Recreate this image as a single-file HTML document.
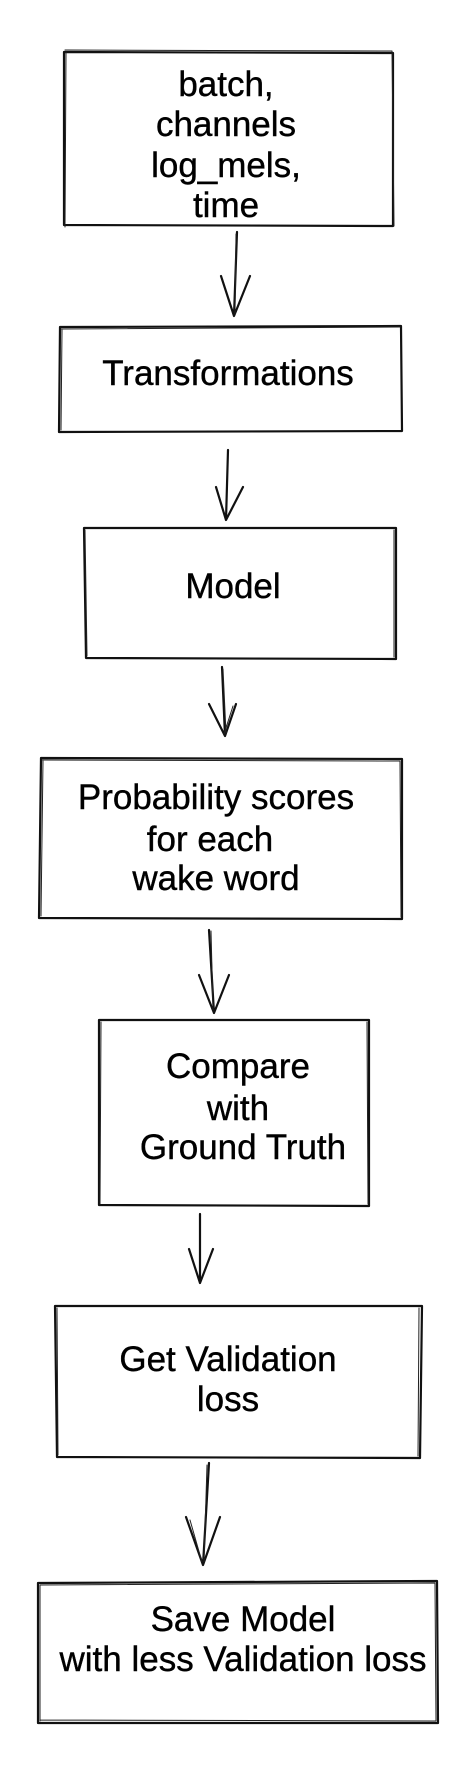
<!DOCTYPE html>
<html><head><meta charset="utf-8"><style>
html,body{margin:0;padding:0;background:#fff;}
svg{display:block;}
text{font-family:"Liberation Sans",Arial,sans-serif;font-size:35px;fill:#000;stroke:#000;stroke-width:0.4;text-anchor:middle;}
.b{fill:none;stroke:#111;stroke-width:2.2;stroke-linecap:round;stroke-linejoin:round;}
.t{fill:none;stroke:#222;stroke-width:1;stroke-linecap:round;}
</style></head><body>
<svg width="472" height="1774" viewBox="0 0 472 1774" xmlns="http://www.w3.org/2000/svg">
<path class="b" d="M64 52 L393 53 L393 226 L64 225 Z"/>
<path class="t" d="M65 50 L392 51 M66 52 L65 227 M392 51 L394 226"/>
<text x="226" y="96">batch,</text>
<text x="226" y="136">channels</text>
<text x="226" y="177">log_mels,</text>
<text x="226" y="217">time</text>
<path class="b" d="M237 232 L234 316 M221 276 L234 316 L250 276"/>
<path class="t" d="M236 234 L235 314"/>
<path class="b" d="M60 327 L401 326 L402 431 L59 432 Z"/>
<path class="t" d="M61 329 L400 327 M62 330 L61 430"/>
<text x="228" y="385">Transformations</text>
<path class="b" d="M228 450 L226 520 M216 487 L226 520 L243 487"/>
<path class="b" d="M84 528 L396 528 L396 659 L86 658 Z"/>
<path class="t" d="M394 530 L394 657 M85 530 L87 656"/>
<text x="233" y="598">Model</text>
<path class="b" d="M222 667 L225 736 M209 704 L225 736 L236 704"/>
<path class="t" d="M223 669 L226 733 M233 706 L224 734"/>
<path class="b" d="M41 758 L402 759 L402 919 L39 918 Z"/>
<path class="t" d="M42 760 L400 761 M43 760 L41 916 M400 761 L401 917"/>
<text x="216" y="809">Probability scores</text>
<text x="210" y="851">for each</text>
<text x="216" y="890">wake word</text>
<path class="b" d="M209 930 L214 1013 M199 975 L214 1013 L229 975"/>
<path class="t" d="M211 931 L213 1010"/>
<path class="b" d="M99 1020 L369 1020 L369 1206 L99 1205 Z"/>
<path class="t" d="M101 1022 L100 1204 M367 1022 L368 1204"/>
<text x="238" y="1078">Compare</text>
<text x="238" y="1120">with</text>
<text x="243" y="1159">Ground Truth</text>
<path class="b" d="M200 1214 L200 1283 M189 1249 L200 1283 L213 1249"/>
<path class="b" d="M55 1306 L422 1306 L420 1458 L57 1457 Z"/>
<path class="t" d="M57 1308 L58 1455 M419 1308 L418 1456"/>
<text x="228" y="1371">Get Validation</text>
<text x="228" y="1411">loss</text>
<path class="b" d="M209 1463 L203 1565 M186 1517 L203 1565 L220 1517"/>
<path class="t" d="M207 1465 L204 1562 M190 1520 L202 1562"/>
<path class="b" d="M38 1583 L437 1581 L438 1723 L38 1723 Z"/>
<path class="t" d="M40 1585 L435 1583 M40 1585 L40 1721 M435 1583 L436 1721 M40 1720 L436 1721"/>
<text x="243" y="1631">Save Model</text>
<text x="243" y="1671">with less Validation loss</text>
</svg>
</body></html>
